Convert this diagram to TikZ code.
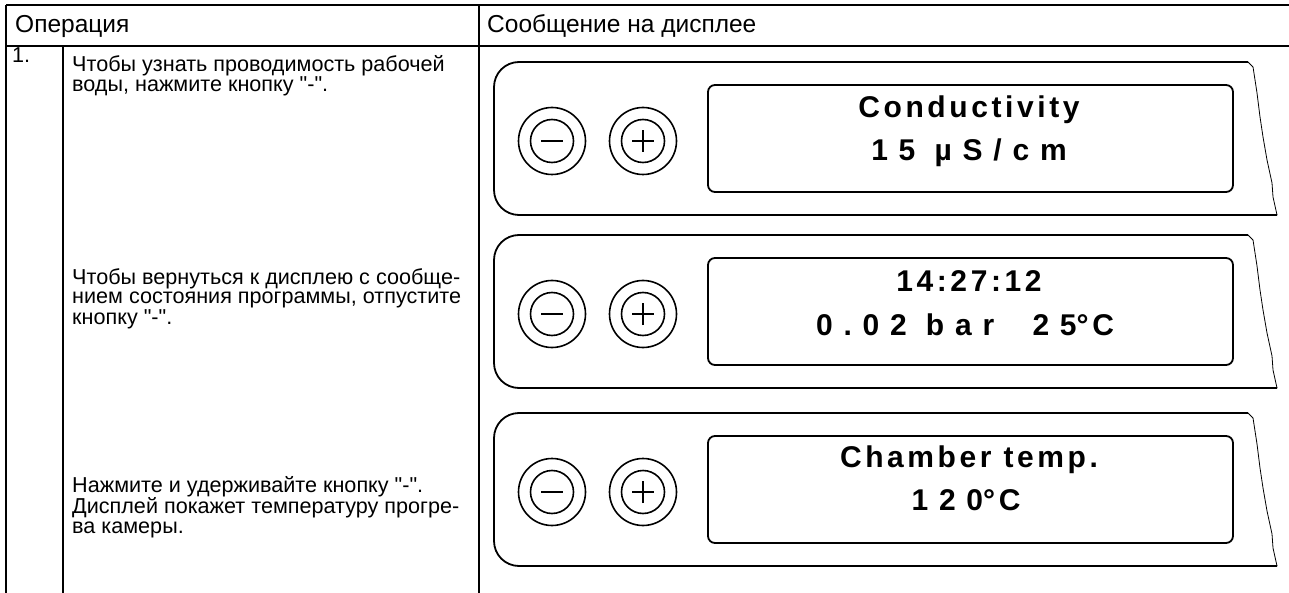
\documentclass[tikz,border=0pt]{standalone}
\usepackage{fontspec}
\newfontfamily\bodyfont{Liberation Sans}
\newfontfamily\lcdfont[LetterSpace=12]{Liberation Sans}
\newfontfamily\lcdwidefont[LetterSpace=36]{Liberation Sans}
\usepackage{tikz}

% one control panel: #1 = name, #2 = top edge
\newcommand{\devpanel}[2]{%
  \begin{scope}[yshift=-#2pt]
    % housing, torn off on the right
    \draw[panel] (1248,0) -- (494,0) -- (494,153) -- (1277,153);
    \draw[tear] (1248,0) -- ++(5,5) -- ++(4,26) -- ++(3,24) -- ++(3,20) -- ++(4,23) -- ++(5,23) -- ++(1,14) -- ++(4,18);
    % buttons
    \node[knob] (#1minus) at (552,79) {};
    \node[knobcap] at (#1minus) {};
    \draw[sign] ([xshift=-11pt]#1minus.center) -- ([xshift=11pt]#1minus.center);
    \node[knob] (#1plus) at (643,79) {};
    \node[knobcap] at (#1plus) {};
    \draw[sign] ([xshift=-11pt]#1plus.center) -- ([xshift=11pt]#1plus.center);
    \draw[sign] ([yshift=-11pt]#1plus.center) -- ([yshift=11pt]#1plus.center);
    % display
    \node[lcd] (#1lcd) at (970.5,76.5) {};
  \end{scope}}

\begin{document}
\begin{tikzpicture}[x=1pt,y=-1pt,
    rule/.style={line width=2pt},
    panel/.style={line width=1.8pt, rounded corners=25pt},
    tear/.style={line width=0.8pt},
    sign/.style={line width=1.6pt},
    knob/.style={draw, circle, line width=1.6pt, minimum size=67pt, inner sep=0pt},
    knobcap/.style={draw, circle, line width=1.6pt, minimum size=43pt, inner sep=0pt},
    lcd/.style={draw, line width=1.8pt, rounded corners=7pt, minimum width=525pt, minimum height=107pt, inner sep=0pt},
    lcdtext/.style={font=\lcdfont\bfseries\fontsize{30}{30}\selectfont, inner sep=0pt, anchor=base},
    lcdwide/.style={font=\lcdwidefont\bfseries\fontsize{30}{30}\selectfont, inner sep=0pt, anchor=base},
    head/.style={font=\bodyfont\fontsize{24.5}{24}\selectfont, inner sep=0pt, anchor=base west},
    body/.style={font=\bodyfont\fontsize{21.6}{19.2}\selectfont, align=left, inner sep=0pt, anchor=base west}]
    \useasboundingbox (0,0) rectangle (1289,593);

    % Table
    \draw[rule] (6,5) -- (1289,5);
    \draw[rule] (6,46.5) -- (1289,46.5);
    \draw[rule] (6,5) -- (6,593);
    \draw[rule] (63,46.5) -- (63,593);
    \draw[rule] (479,5) -- (479,593);

    \node[head] (hop) at (15,32.5) {Операция};
    \node[head] (hmsg) at (487,32.5) {Сообщение на дисплее};

    % Steps (anchored at the last baseline)
    \node[body] (num) at (12,63) {1.};
    \node[body] (step1) at (72,92) {Чтобы узнать проводимость рабочей\\воды, нажмите кнопку "-".};
    \node[body] (step2) at (72,324) {Чтобы вернуться к дисплею с сообще-\\нием состояния программы, отпустите\\кнопку "-".};
    \node[body] (step3) at (72,533) {Нажмите и удерживайте кнопку "-".\\Дисплей покажет температуру прогре-\\ва камеры.};

    % Displays
    \devpanel{a}{62}
    \devpanel{b}{235}
    \devpanel{c}{413}

    \node[lcdtext] (a1) at (969,118) {Conductivity};
    \node[lcdwide] (a2) at (969,161) {15 µS/cm};
    \node[lcdtext] (b1) at (969,292) {14:27:12};
    \node[lcdwide] (b2) at (965,335) {0.02 bar\ \ 25{\lcdfont °C}};
    \node[lcdtext] (c1) at (969,467) {Chamber temp.};
    \node[lcdwide] (c2) at (966,510) {120{\lcdfont °C}};
\end{tikzpicture}
\end{document}
